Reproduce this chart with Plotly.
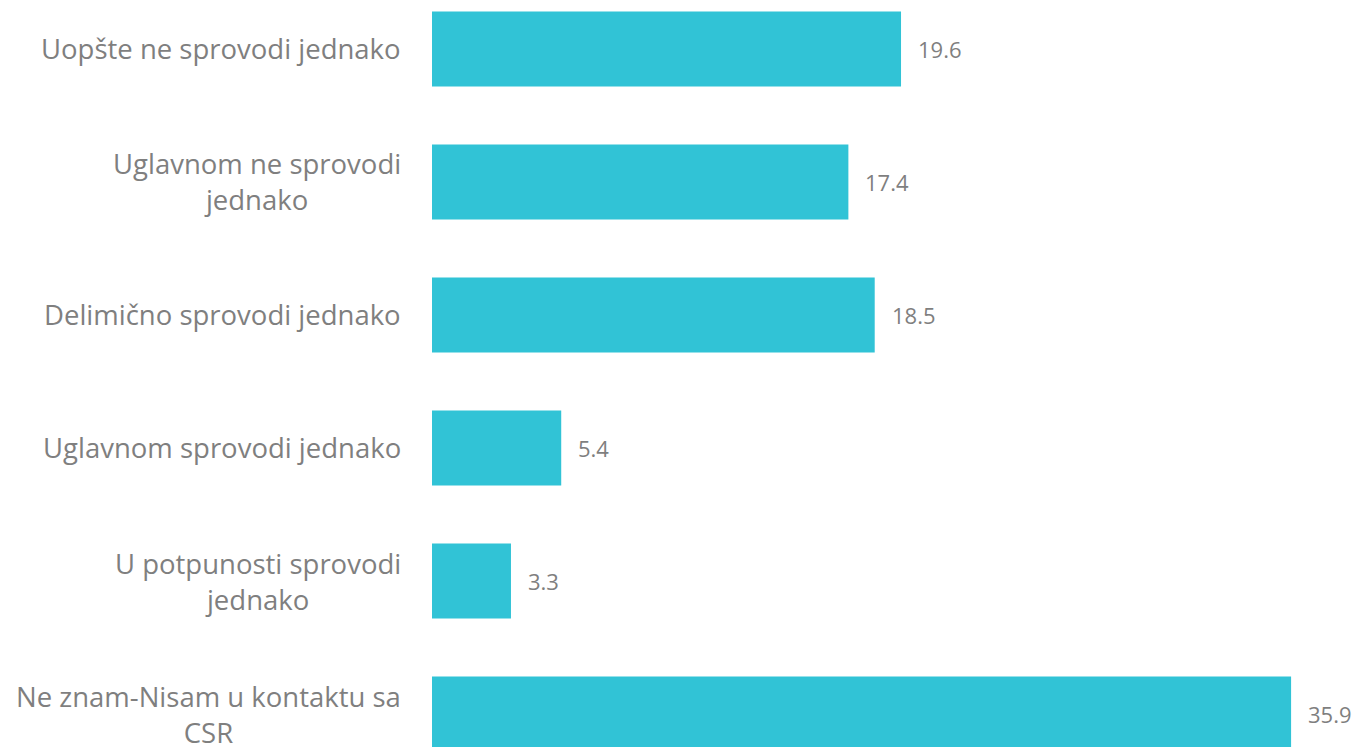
import plotly.graph_objects as go

categories = [
    "Uopšte ne sprovodi jednako",
    "Uglavnom ne sprovodi<br>jednako",
    "Delimično sprovodi jednako",
    "Uglavnom sprovodi jednako",
    "U potpunosti sprovodi<br>jednako",
    "Ne znam-Nisam u kontaktu sa<br>CSR",
]
values = [19.6, 17.4, 18.5, 5.4, 3.3, 35.9]

BAR = "#31C3D6"
GRAY = "#7F7F7F"
FONT = "Open Sans"

fig = go.Figure(go.Bar(
    x=values, y=categories, orientation="h",
    marker=dict(color=BAR, line=dict(width=0)),
    width=0.564, hoverinfo="skip",
))

for c, v in zip(categories, values):
    fig.add_annotation(x=v, y=c, text=f"{v:.1f}", showarrow=False,
                       xanchor="left", xshift=15,
                       font=dict(family=FONT, size=22, color=GRAY))
    fig.add_annotation(x=0, y=c, text=c, showarrow=False, xref="x",
                       xanchor="right", xshift=-29, align="center",
                       font=dict(family=FONT, size=27.5, color=GRAY))

fig.update_layout(
    width=1360, height=747,
    margin=dict(l=432, r=0, t=0, b=0),
    paper_bgcolor="white", plot_bgcolor="white",
    showlegend=False,
    xaxis=dict(range=[0, 928 / 23.93], visible=False, fixedrange=True),
    yaxis=dict(categoryorder="array", categoryarray=categories,
               range=[5.248, -0.368], showticklabels=False,
               showgrid=False, zeroline=False, showline=False, ticks=""),
)

fig.write_html("out.html", config={"displayModeBar": False},
               post_script="document.body.style.margin='0';")
